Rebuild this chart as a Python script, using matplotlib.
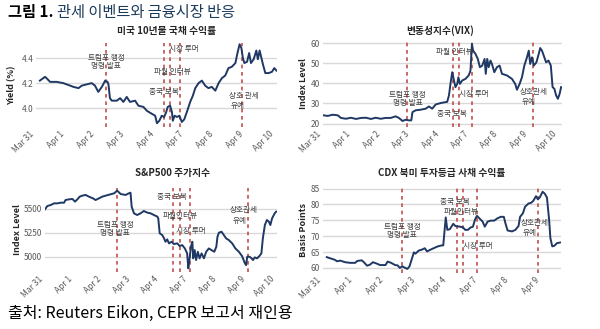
import matplotlib.pyplot as plt

plt.rcParams['font.family'] = ['Noto Sans CJK KR', 'DejaVu Sans']

# 거래일 축 (0 = Mar 31, 8 = Apr 10)
days = ['Mar 31', 'Apr 1', 'Apr 2', 'Apr 3', 'Apr 4', 'Apr 7', 'Apr 8', 'Apr 9', 'Apr 10']

# 미국 10년물 국채 수익률 (%)
yield_x = [0.13, 0.30, 0.35, 0.47, 0.69, 0.91, 1.14, 1.25, 1.42, 1.53, 1.69, 1.86, 1.97, 2.08, 2.20,
           2.31, 2.39, 2.42, 2.47, 2.53, 2.70, 2.81, 2.92, 3.03, 3.14, 3.31, 3.42, 3.59, 3.70, 3.87,
           3.98, 4.04, 4.12, 4.20, 4.28, 4.35, 4.40, 4.48, 4.54, 4.57, 4.63, 4.71, 4.79, 4.87, 4.95,
           5.04, 5.15, 5.24, 5.32, 5.43, 5.54, 5.65, 5.76, 5.87, 5.99, 6.10, 6.21, 6.32, 6.43, 6.54,
           6.66, 6.73, 6.80, 6.86, 6.91, 6.96, 7.05, 7.12, 7.18, 7.27, 7.36, 7.41, 7.47, 7.53, 7.58,
           7.66, 7.77, 7.88, 7.96, 8.03]
yield_y = [4.22, 4.25, 4.24, 4.21, 4.21, 4.20, 4.18, 4.17, 4.16, 4.18, 4.19, 4.20, 4.18, 4.13, 4.17,
           4.22, 4.21, 4.19, 4.08, 4.06, 4.06, 4.08, 4.05, 4.09, 4.05, 4.06, 4.02, 4.01, 3.98, 3.955,
           3.94, 3.88, 3.90, 3.94, 3.93, 3.97, 4.01, 4.02, 3.97, 3.90, 3.94, 3.93, 3.94, 3.89, 3.91,
           3.97, 4.05, 4.10, 4.16, 4.20, 4.22, 4.18, 4.16, 4.17, 4.14, 4.20, 4.24, 4.26, 4.32, 4.33,
           4.36, 4.44, 4.51, 4.48, 4.40, 4.36, 4.37, 4.44, 4.36, 4.39, 4.46, 4.39, 4.46, 4.40, 4.35,
           4.28, 4.28, 4.29, 4.32, 4.30]
yield_events = [2.34, 4.26, 4.48, 4.82, 6.88]

# 변동성지수 (VIX)
vix_x = [0.02, 0.16, 0.33, 0.50, 0.61, 0.78, 0.95, 1.12, 1.29, 1.46, 1.63, 1.79, 1.96, 2.13, 2.30,
         2.47, 2.58, 2.70, 2.81, 2.92, 3.00, 3.04, 3.15, 3.32, 3.49, 3.60, 3.71, 3.83, 4.00, 4.22,
         4.28, 4.33, 4.39, 4.45, 4.50, 4.56, 4.60, 4.65, 4.73, 4.84, 4.95, 5.01, 5.06, 5.10, 5.18,
         5.26, 5.33, 5.41, 5.49, 5.53, 5.58, 5.63, 5.69, 5.74, 5.82, 5.91, 6.00, 6.08, 6.25, 6.42,
         6.53, 6.59, 6.68, 6.76, 6.84, 6.93, 6.99, 7.04, 7.10, 7.16, 7.25, 7.33, 7.38, 7.44, 7.52,
         7.58, 7.66, 7.74, 7.80, 7.86, 7.92, 7.98, 8.04, 8.09]
vix_y = [24.1, 23.8, 24.4, 24.1, 22.8, 22.4, 22.9, 22.3, 22.8, 22.9, 22.3, 22.9, 22.4, 22.8, 22.8,
         23.6, 22.8, 21.3, 21.9, 21.6, 21.6, 25.7, 26.6, 26.9, 27.4, 28.5, 27.4, 29.5, 30.2, 30.8,
         34.0, 39.7, 45.5, 41.4, 38.1, 39.7, 43.0, 39.7, 41.4, 42.2, 43.9, 46.3, 59.5, 56.2, 54.6,
         52.1, 48.0, 48.8, 52.1, 44.7, 52.1, 48.0, 51.3, 49.6, 45.5, 48.0, 48.8, 44.7, 43.9, 42.2,
         39.7, 36.8, 39.7, 43.0, 48.8, 52.9, 56.2, 49.6, 52.9, 48.8, 50.4, 54.6, 57.5, 56.2, 52.9,
         50.4, 51.3, 48.8, 38.1, 37.3, 34.0, 32.3, 34.8, 38.1]
vix_events = [2.87, 4.42, 4.62, 5.06, 7.13]

# S&P500 주가지수
spx_x = [0.00, 0.08, 0.20, 0.31, 0.43, 0.54, 0.66, 0.71, 0.83, 0.95, 1.04, 1.12, 1.20, 1.29, 1.41,
         1.52, 1.66, 1.75, 1.87, 1.98, 2.10, 2.27, 2.39, 2.50, 2.62, 2.79, 2.90, 2.96, 3.00, 3.08,
         3.19, 3.31, 3.42, 3.54, 3.65, 3.77, 3.89, 3.92, 3.97, 4.06, 4.12, 4.17, 4.23, 4.29, 4.38,
         4.46, 4.58, 4.66, 4.75, 4.84, 4.92, 4.96, 5.00, 5.05, 5.10, 5.13, 5.18, 5.23, 5.29, 5.35,
         5.42, 5.50, 5.58, 5.67, 5.76, 5.86, 5.93, 5.97, 6.02, 6.11, 6.19, 6.27, 6.36, 6.48, 6.59,
         6.71, 6.82, 6.92, 6.96, 7.00, 7.08, 7.15, 7.20, 7.26, 7.34, 7.42, 7.49, 7.54, 7.61, 7.68,
         7.75, 7.80, 7.86, 7.95, 8.00]
spx_y = [5497, 5531, 5542, 5559, 5559, 5566, 5566, 5594, 5601, 5605, 5577, 5601, 5629, 5640, 5647,
         5629, 5612, 5594, 5612, 5629, 5640, 5654, 5664, 5692, 5657, 5647, 5664, 5671, 5524, 5455,
         5437, 5455, 5479, 5462, 5455, 5437, 5420, 5402, 5245, 5227, 5192, 5157, 5182, 5140, 5157,
         5133, 5140, 5112, 5122, 5087, 5035, 4878, 4965, 5105, 5157, 4983, 5070, 4965, 5052, 4983,
         5035, 4983, 5052, 5087, 5070, 5052, 5105, 5210, 5252, 5262, 5227, 5192, 5175, 5140, 5087,
         5052, 5007, 4930, 4912, 5000, 5000, 4983, 4965, 4993, 4983, 5007, 5035, 5192, 5332, 5385,
         5367, 5332, 5402, 5455, 5472]
spx_events = [2.50, 4.43, 4.66, 5.01, 7.02]

# CDX 북미 투자등급 (bp)
cdx_x = [0.12, 0.24, 0.37, 0.45, 0.55, 0.71, 0.87, 1.03, 1.10, 1.24, 1.31, 1.41, 1.50, 1.60, 1.71,
         1.83, 2.00, 2.07, 2.18, 2.31, 2.39, 2.46, 2.54, 2.63, 2.70, 2.77, 2.91, 2.96, 3.07, 3.15,
         3.26, 3.33, 3.43, 3.54, 3.68, 3.80, 3.85, 3.93, 3.98, 4.06, 4.17, 4.24, 4.38, 4.48, 4.55,
         4.64, 4.72, 4.80, 4.87, 4.93, 5.01, 5.11, 5.18, 5.27, 5.37, 5.48, 5.58, 5.69, 5.79, 5.84,
         5.91, 6.05, 6.16, 6.26, 6.31, 6.40, 6.47, 6.58, 6.66, 6.73, 6.82, 6.88, 6.94, 7.03, 7.10,
         7.17, 7.24, 7.28, 7.34, 7.41, 7.49, 7.59]
cdx_y = [63.4, 63.0, 62.6, 62.1, 62.3, 61.8, 61.6, 61.6, 62.2, 62.4, 61.8, 60.7, 61.0, 61.8, 61.4,
         60.9, 60.9, 62.0, 61.6, 60.9, 60.8, 60.0, 60.5, 60.0, 59.7, 60.5, 64.9, 64.5, 65.5, 65.7,
         66.2, 65.2, 65.7, 66.2, 66.8, 67.1, 67.1, 75.9, 72.0, 72.2, 73.9, 73.2, 73.0, 72.8, 72.0,
         72.0, 72.7, 73.0, 75.3, 76.4, 75.6, 74.6, 73.0, 74.6, 74.9, 74.9, 75.6, 76.1, 76.1, 74.1,
         71.8, 71.5, 72.0, 73.2, 76.1, 77.2, 79.3, 80.3, 80.5, 81.1, 82.6, 81.6, 82.2, 84.0, 83.4,
         82.2, 75.1, 69.4, 66.8, 67.0, 67.8, 68.0]
cdx_events = [2.54, 4.30, 4.47, 4.93, 6.87]

W, H = 600, 329
navy = '#1f3864'
red = '#c0504d'
grey = '#595959'

fig = plt.figure(figsize=(W / 100, H / 100), dpi=100)
fig.patch.set_facecolor('white')


def px_axes(l, t, r, b):
    return fig.add_axes([l / W, 1 - b / H, (r - l) / W, (b - t) / H])


def draw_panel(box, x, y, events, xlim, ylim, yticks, ylabel, ylabel_x, ntick, notes):
    ax = px_axes(*box)
    ax.plot(x, y, color=navy, lw=1.4, zorder=3)
    for e in events:
        ax.axvline(e, color=red, lw=1.2, ls=(0, (2.2, 2.2)), zorder=2)
    ax.set_xlim(xlim)
    ax.set_ylim(ylim)
    ax.set_yticks(yticks)
    ax.set_xticks(range(ntick))
    ax.set_xticklabels(days[:ntick], rotation=45, ha='right', fontsize=6, color=grey)
    ax.tick_params(axis='y', labelsize=6, labelcolor=grey, pad=2)
    ax.tick_params(length=0)
    ax.tick_params(axis='x', pad=2)
    ax.grid(axis='y', color='#d9d9d9', lw=1)
    ax.set_axisbelow(True)
    for s in ax.spines.values():
        s.set_visible(False)
    fig.text(ylabel_x / W, 1 - (box[1] + box[3]) / 2 / H, ylabel, rotation=90,
             ha='center', va='center', fontsize=6.5, fontweight='bold', color='#262626')
    for tx, ty, txt in notes:
        ax.text(tx, ty, txt, ha='center', va='center', fontsize=5.5, color='#404040',
                linespacing=1.0, zorder=4)
    return ax


# 미국 10년물 국채 수익률
draw_panel((36, 43, 277, 127), yield_x, yield_y, yield_events, (0, 8.05), (3.85, 4.52),
           [4.0, 4.2, 4.4], 'Yield (%)', 12, 9,
           [(2.34, 4.37, '트럼프 행정\n명령 발표'), (4.95, 4.47, '시장 루머'),
            (4.56, 4.29, '파월 인터뷰'), (4.26, 4.13, '중국 보복'),
            (6.95, 4.10, '상호 관세'), (6.75, 4.02, '유예')])
fig.text(167 / W, 1 - 31 / H, '미국 10년물 국채 수익률', ha='center', va='center',
         fontsize=7, fontweight='bold', color='#262626')

# VIX
draw_panel((323, 41, 562, 127), vix_x, vix_y, vix_events, (0, 8.12), (18.3, 61),
           [20, 30, 40, 50, 60], 'Index Level', 304, 9,
           [(2.87, 32.3, '트럼프 행정\n명령 발표'), (4.39, 24.6, '중국 보복'),
            (4.45, 55.4, '파월 인터뷰'), (5.12, 34.8, '시장 루머'),
            (7.16, 35.6, '상호관세'), (7.0, 30.7, '유예')])
fig.text(440 / W, 1 - 31 / H, '변동성지수(VIX)', ha='center', va='center',
         fontsize=7, fontweight='bold', color='#262626')

# S&P500
draw_panel((45, 188, 277, 272), spx_x, spx_y, spx_events, (0, 8.03), (4840, 5720),
           [5000, 5250, 5500], 'Index Level', 17, 9,
           [(4.40, 5622, '중국 보복'), (4.69, 5427, '파월인터뷰'),
            (2.42, 5287, '트럼프 행정\n명령 발표'), (5.04, 5273, '시장 루머'),
            (6.88, 5490, '상호관세'), (6.72, 5374, '유예')])
fig.text(173 / W, 1 - 173 / H, 'S&P500 주가지수', ha='center', va='center',
         fontsize=7, fontweight='bold', color='#262626')

# CDX
draw_panel((323, 187, 561, 273), cdx_x, cdx_y, cdx_events, (0, 7.62), (58.4, 85.5),
           [60, 65, 70, 75, 80, 85], 'Basis Points', 303, 8,
           [(4.22, 80.8, '중국 보복'), (4.41, 77.5, '파월인터뷰'),
            (2.54, 71.5, '트럼프 행정\n명령 발표'), (4.95, 66.8, '시장 루머'),
            (6.79, 74.1, '상호관세'), (6.62, 70.9, '유예')])
fig.text(442 / W, 1 - 173 / H, 'CDX 북미 투자등급 사채 수익률', ha='center', va='center',
         fontsize=7, fontweight='bold', color='#262626')

# 제목과 출처
fig.text(8 / W, 1 - 12 / H, '그림 1.', ha='left', va='center', fontsize=11,
         fontweight='bold', color='black')
fig.text(57 / W, 1 - 12 / H, '관세 이벤트와 금융시장 반응', ha='left', va='center',
         fontsize=11, color='#1b3a5c')
fig.text(8 / W, 1 - 313 / H, '출처: Reuters Eikon, CEPR 보고서 재인용', ha='left', va='center',
         fontsize=11.5, color='black')

fig.savefig('out.png', dpi=100, facecolor='white')
